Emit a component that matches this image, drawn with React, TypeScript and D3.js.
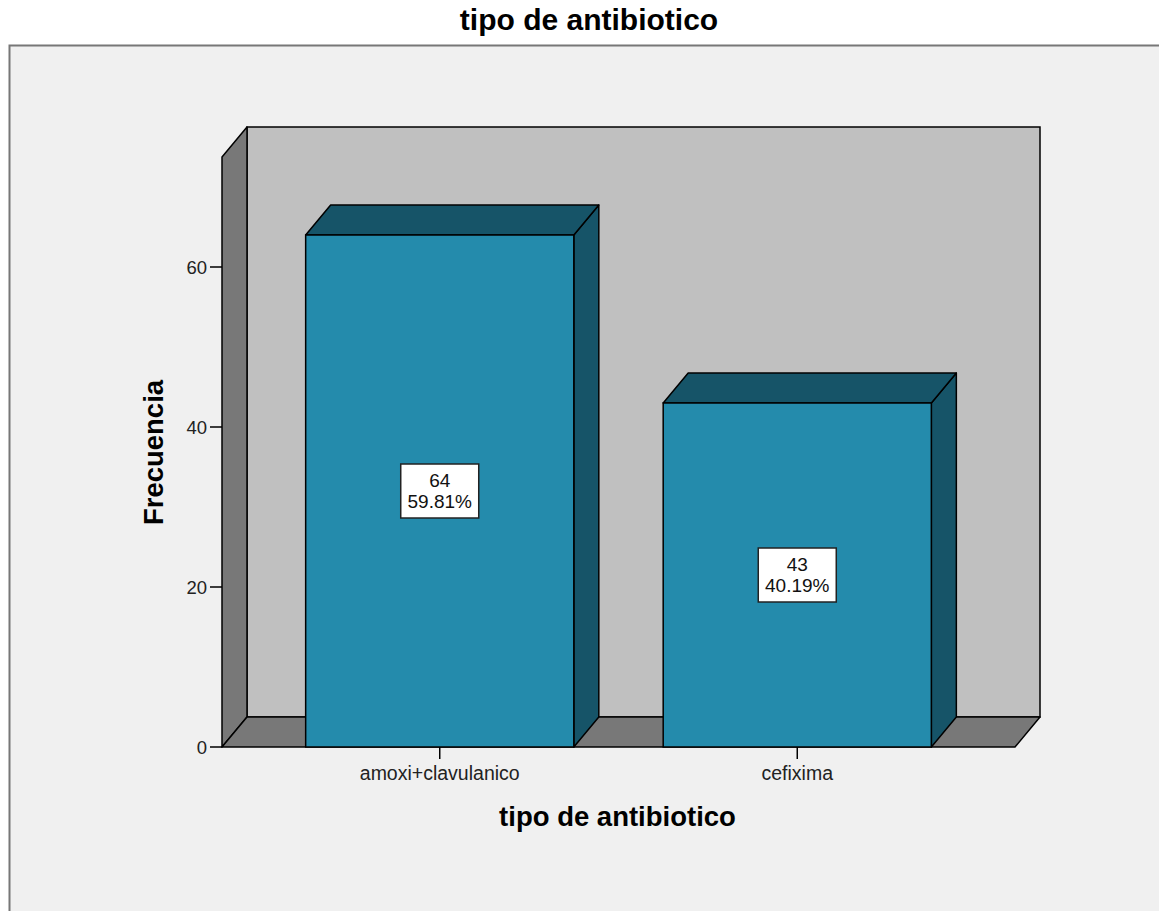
import React from "react";
import * as d3 from "d3";

// Frequency of each antibiotic type
const categories = ["amoxi+clavulanico", "cefixima"];
const counts = [64, 43];
const percents = ["59.81%", "40.19%"];
const yTicks = [0, 20, 40, 60];

const W = 1159;
const H = 911;

// 3D depth offsets
const DX = 25;
const DY = 30;

const FONT = "'Liberation Sans', Arial, sans-serif";

export default function App() {
  const x0 = 222;
  const x1 = 1015;
  const yBase = 747;
  const yTopWall = 157;

  const y = d3.scaleLinear().domain([0, 73.75]).range([yBase, yTopWall]);
  const x = d3
    .scaleBand<string>()
    .domain(categories)
    .range([x0, x1])
    .paddingInner(0.25)
    .paddingOuter(0.234);

  const pts = (p: [number, number][]) => p.map((d) => d.join(",")).join(" ");

  return (
    <svg
      width={W}
      height={H}
      style={{ position: "absolute", left: 0, top: 0, background: "#ffffff" }}
    >
      {/* outer chart frame */}
      <rect x={9.5} y={45.5} width={1300} height={1000} fill="#f0f0f0" stroke="#777" strokeWidth={2} />

      {/* title */}
      <text x={589} y={30} textAnchor="middle" fontFamily={FONT} fontWeight="bold" fontSize={30} fill="#000">
        tipo de antibiotico
      </text>

      {/* back wall */}
      <rect x={x0 + DX} y={yTopWall - DY} width={x1 - x0} height={yBase - yTopWall} fill="#c0c0c0" stroke="#000" strokeWidth={1.5} />
      {/* left wall */}
      <polygon
        points={pts([
          [x0, yTopWall],
          [x0 + DX, yTopWall - DY],
          [x0 + DX, yBase - DY],
          [x0, yBase],
        ])}
        fill="#787878"
        stroke="#000"
        strokeWidth={1.5}
        strokeLinejoin="round"
      />
      {/* floor */}
      <polygon
        points={pts([
          [x0, yBase],
          [x0 + DX, yBase - DY],
          [x1 + DX, yBase - DY],
          [x1, yBase],
        ])}
        fill="#787878"
        stroke="#000"
        strokeWidth={1.5}
        strokeLinejoin="round"
      />

      {/* bars */}
      {categories.map((c, i) => {
        const bx0 = x(c)!;
        const bx1 = bx0 + x.bandwidth();
        const yt = y(counts[i]);
        const cx = bx0 + x.bandwidth() / 2;
        const cy = (yt + yBase) / 2;
        return (
          <g key={c}>
            <polygon
              points={pts([
                [bx1, yt],
                [bx1 + DX, yt - DY],
                [bx1 + DX, yBase - DY],
                [bx1, yBase],
              ])}
              fill="#165468"
              stroke="#000"
              strokeWidth={1.5}
              strokeLinejoin="round"
            />
            <polygon
              points={pts([
                [bx0, yt],
                [bx0 + DX, yt - DY],
                [bx1 + DX, yt - DY],
                [bx1, yt],
              ])}
              fill="#165468"
              stroke="#000"
              strokeWidth={1.5}
              strokeLinejoin="round"
            />
            <rect x={bx0} y={yt} width={bx1 - bx0} height={yBase - yt} fill="#248bac" stroke="#000" strokeWidth={1.5} />
            {/* value label */}
            <rect x={cx - 39} y={cy - 27} width={78} height={54} fill="#ffffff" stroke="#222" strokeWidth={1.5} />
            <text x={cx} y={cy - 4} textAnchor="middle" fontFamily={FONT} fontSize={19} fill="#111">
              {counts[i]}
            </text>
            <text x={cx} y={cy + 17} textAnchor="middle" fontFamily={FONT} fontSize={19} fill="#111">
              {percents[i]}
            </text>
            {/* category tick + label */}
            <line x1={cx} x2={cx} y1={yBase} y2={yBase + 12} stroke="#000" strokeWidth={1.5} />
            <text x={cx} y={780} textAnchor="middle" fontFamily={FONT} fontSize={19.5} fill="#222">
              {c}
            </text>
          </g>
        );
      })}

      {/* y axis ticks */}
      {yTicks.map((t) => (
        <g key={t}>
          <line x1={x0 - 12} x2={x0} y1={y(t)} y2={y(t)} stroke="#000" strokeWidth={1.5} />
          <text x={x0 - 15} y={y(t) + 7} textAnchor="end" fontFamily={FONT} fontSize={18.5} fill="#222">
            {t}
          </text>
        </g>
      ))}

      {/* axis titles */}
      <text x={617.5} y={826} textAnchor="middle" fontFamily={FONT} fontWeight="bold" fontSize={27.5} fill="#000">
        tipo de antibiotico
      </text>
      <text
        transform={`translate(163, 452.5) rotate(-90)`}
        textAnchor="middle"
        fontFamily={FONT}
        fontWeight="bold"
        fontSize={27.5}
        fill="#000"
      >
        Frecuencia
      </text>
    </svg>
  );
}
